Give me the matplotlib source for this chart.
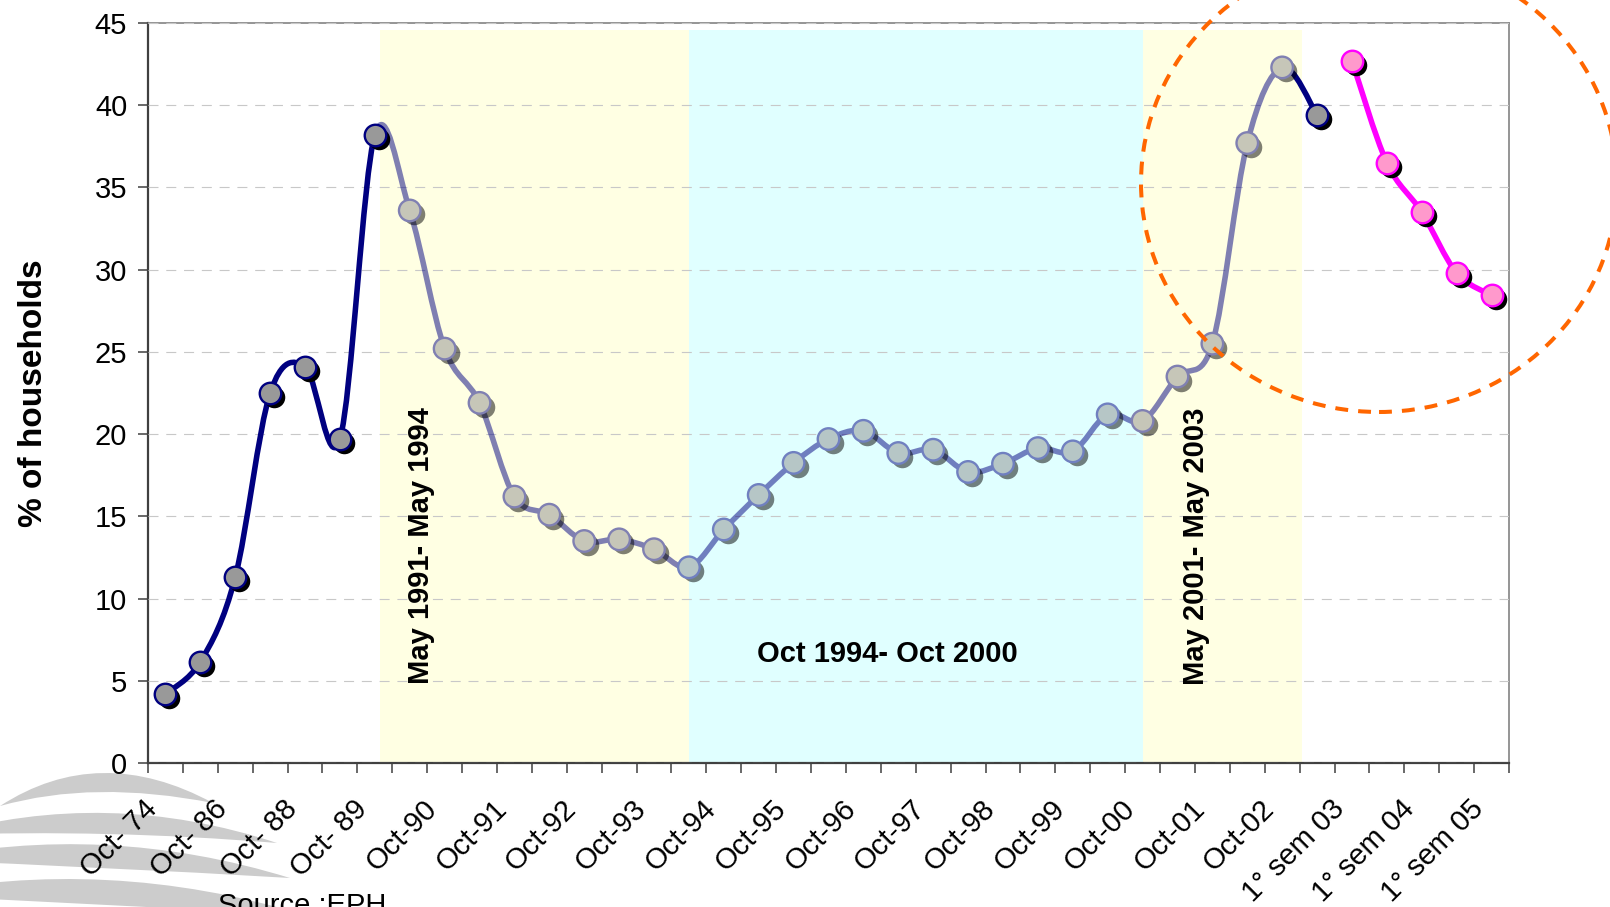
import numpy as np
import matplotlib
matplotlib.use('Agg')
import matplotlib.pyplot as plt
from matplotlib.path import Path
from matplotlib.patches import PathPatch, Ellipse
from matplotlib.transforms import offset_copy, ScaledTranslation
from matplotlib.colors import to_rgb

plt.rcParams['font.family'] = ['Liberation Sans', 'DejaVu Sans']

# EPH series (Oct-74 ... Oct-02, 1st semester 03) and EPH continua (1° sem 03 ... 1° sem 05)
eph_vals = [4.2, 6.15, 11.3, 22.5, 24.1, 19.7, 38.2, 33.6, 25.2, 21.9,
            16.2, 15.1, 13.5, 13.6, 13.0, 11.9, 14.2, 16.3, 18.25, 19.7,
            20.2, 18.85, 19.05, 17.7, 18.2, 19.15, 18.95, 21.2, 20.8, 23.5,
            25.5, 37.7, 42.3, 39.4]
cont_vals = [42.7, 36.5, 33.5, 29.8, 28.45]

tick_labels = ['Oct- 74', 'Oct- 86', 'Oct- 88', 'Oct- 89', 'Oct-90', 'Oct-91',
               'Oct-92', 'Oct-93', 'Oct-94', 'Oct-95', 'Oct-96', 'Oct-97',
               'Oct-98', 'Oct-99', 'Oct-00', 'Oct-01', 'Oct-02',
               '1° sem 03', '1° sem 04', '1° sem 05']

# shaded periods (category index units)
periods = [(6.15, 15.0, '#FFFFE3'), (15.0, 28.0, '#E0FFFF'), (28.0, 32.57, '#FFFFE3')]

W, H = 1610, 907
navy = '#000080'
magenta = '#FF00FF'

def bg_at(x):
    for a, b, c in periods:
        if a <= x < b:
            return np.array(to_rgb(c))
    return np.array([1., 1., 1.])

def blend(c, x, a=0.5):
    return tuple(a * np.array(to_rgb(c)) + (1 - a) * bg_at(x))

def smooth_path(x, y, i0, i1):
    # excel-like smoothed line between points i0..i1 (neighbours from whole series)
    p = np.column_stack([x, y]).astype(float)
    n = len(p)
    verts = [p[i0]]
    codes = [Path.MOVETO]
    for i in range(i0, i1):
        p0 = p[max(i - 1, 0)]
        p3 = p[min(i + 2, n - 1)]
        c1 = p[i] + (p[i + 1] - p0) / 6.
        c2 = p[i + 1] - (p3 - p[i]) / 6.
        verts += [c1, c2, p[i + 1]]
        codes += [Path.CURVE4] * 3
    return Path(verts, codes)

fig = plt.figure(figsize=(W / 100., H / 100.), dpi=100)
fig.patch.set_facecolor('white')
ax = fig.add_axes([148 / W, 1 - 763 / H, (1509 - 148) / W, (763 - 23) / H])

for a, b, c in periods:
    ax.fill_between([a, b], 0, 44.6, color=c, lw=0, zorder=0)

ax.set_xlim(-0.5, 38.5)
ax.set_ylim(0, 45)
ax.set_yticks(range(0, 46, 5))
ax.yaxis.grid(True, color='#C8C8C8', lw=0.8, linestyle=(0, (9, 7)), zorder=1)
ax.set_axisbelow(False)
for gl in ax.get_ygridlines():
    gl.set_zorder(1)

ax.set_xticks(range(0, 39, 2))
ax.set_xticklabels(tick_labels, rotation=45, ha='right', rotation_mode='anchor')
ax.set_xticks(np.arange(-0.5, 39, 1), minor=True)
ax.tick_params(axis='x', which='major', length=0, pad=26, labelsize=21)
ax.tick_params(axis='x', which='minor', length=7, width=1.1, color='#404040', direction='out')
ax.tick_params(axis='y', length=7, width=1.1, color='#404040', direction='out', labelsize=21, pad=8)
shift = ScaledTranslation(-0.22, 0.04, fig.dpi_scale_trans)
for lbl in ax.get_xticklabels():
    lbl.set_transform(lbl.get_transform() + shift)

for s in ['left', 'bottom']:
    ax.spines[s].set_color('#404040')
    ax.spines[s].set_linewidth(1.6)
for s in ['top', 'right']:
    ax.spines[s].set_color('#8C8C8C')
    ax.spines[s].set_linewidth(1.3)

ax.set_ylabel('% of households', fontsize=24, fontweight='bold', va='center')
ax.yaxis.set_label_coords(-0.084, 0.5)

shadow_tr = offset_copy(ax.transData, fig=fig, x=4, y=-4, units='dots')

# main EPH series
xe = np.arange(len(eph_vals))
segs = [(0, 6, navy, 1.0), (6, 32, navy, 0.5), (32, 33, navy, 1.0)]
for i0, i1, c, a in segs:
    ax.add_patch(PathPatch(smooth_path(xe, eph_vals, i0, i1), fc='none', ec=c,
                           lw=4.0, alpha=a, capstyle='round', joinstyle='round', zorder=3))

ms2 = 15.5 ** 2
solid = [i for i in xe if i <= 6 or i == len(eph_vals) - 1]
faded = [i for i in xe if 6 < i < len(eph_vals) - 1]
ev = np.array(eph_vals)
ax.scatter(xe[solid], ev[solid], s=ms2, c='black', lw=0, transform=shadow_tr, zorder=4)
ax.scatter(xe[faded], ev[faded], s=ms2, c='black', alpha=0.5, lw=0, transform=shadow_tr, zorder=4)
ax.scatter(xe[solid], ev[solid], s=ms2, c='#999999', edgecolors=navy, linewidths=1.7, zorder=5)
ax.scatter(xe[faded], ev[faded], s=ms2,
           c=[blend('#8C8C8C', i) for i in faded],
           edgecolors=[blend(navy, i) for i in faded], linewidths=1.7, zorder=5)

# EPH continua
xc = np.arange(len(cont_vals)) + len(eph_vals)
ax.add_patch(PathPatch(smooth_path(xc, cont_vals, 0, len(cont_vals) - 1), fc='none', ec=magenta,
                       lw=4.0, capstyle='round', joinstyle='round', zorder=3))
ax.scatter(xc, cont_vals, s=ms2, c='black', lw=0, transform=shadow_tr, zorder=4)
ax.scatter(xc, cont_vals, s=ms2, c='#FF99CC', edgecolors=magenta, linewidths=1.7, zorder=5)

# period labels
ax.text(7.32, 13.2, 'May 1991- May 1994', rotation=90, ha='center', va='center',
        fontsize=21, fontweight='bold', zorder=6)
ax.text(29.53, 13.2, 'May 2001- May 2003', rotation=90, ha='center', va='center',
        fontsize=21, fontweight='bold', zorder=6)
ax.text(20.7, 6.63, 'Oct 1994- Oct 2000', ha='center', va='center',
        fontsize=21, fontweight='bold', zorder=6)

# orange dashed ring
ring = Ellipse((1379 / W, 1 - 183 / H), 476 / W, 458 / H, transform=fig.transFigure,
               fill=False, ec='#FF6600', lw=2.9, linestyle=(0, (3.2, 2.5)), zorder=10)
fig.add_artist(ring)

# grey logo swooshes, bottom left
swooshes = [((0, 806), (213, 803), (99.5, 741.5), (93.5, 779.5)),
            ((-60, 835), (277, 843), (107.5, 787), (107.5, 829)),
            ((-80, 860), (290, 878), (105, 821), (105, 867)),
            ((-90, 895), (305, 915), (106.5, 855), (106.5, 905))]
for p0, p2, ct, cb in swooshes:
    v = [p0, ct, p2, cb, p0]
    v = [(vx / W, 1 - vy / H) for vx, vy in v]
    sp = Path(v, [Path.MOVETO, Path.CURVE3, Path.CURVE3, Path.CURVE3, Path.CURVE3])
    fig.add_artist(PathPatch(sp, fc='#CCCCCC', ec='none', transform=fig.transFigure, zorder=-1))

fig.text(218 / W, 1 - 914 / H, 'Source :EPH', fontsize=21, va='baseline', ha='left')

fig.savefig('out.png', dpi=100)
